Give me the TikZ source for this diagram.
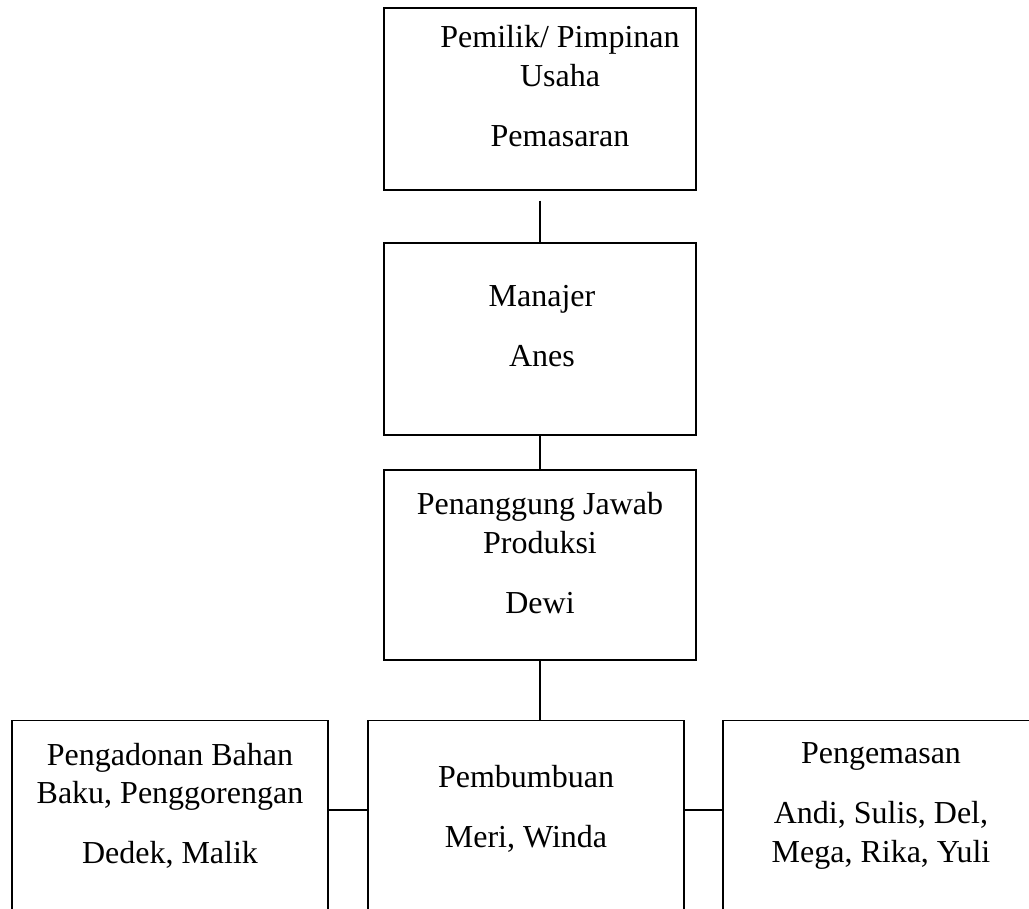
\documentclass[tikz,border=0pt]{standalone}
\usepackage{fontspec}
\setmainfont{Liberation Serif}
\usetikzlibrary{positioning}
\tikzset{
  unit/.style={draw=black,line width=1pt,fill=white,minimum width=234pt,inner sep=0pt},
  ubawah/.style={unit,minimum width=237pt,minimum height=180pt,anchor=north},
  isi/.style={align=center,inner sep=0pt,font=\fontsize{24}{29}\selectfont},
  link/.style={draw=black,line width=0.8pt},
}
\begin{document}
\begin{tikzpicture}[x=0.75pt,y=-0.75pt]
  \useasboundingbox (0,0) rectangle (1029,909);
  \clip (0,0) rectangle (1029,909);
  % kotak jabatan
  \node[unit,minimum height=136.5pt] (owner) at (540,99) {};
  \node[unit,minimum height=144pt] (mgr) at (540,339) {};
  \node[unit,minimum height=142.5pt] (pj) at (540,565) {};
  \foreach \n/\x in {adon/170,bumbu/526,kemas/881} {
    \node[ubawah] (\n) at (\x,720) {};
  }
  % isi kotak
  \node[isi,below=13.5pt of owner.north,xshift=15pt] (ownerT) {Pemilik/ Pimpinan\\Usaha\\[16pt]Pemasaran};
  \node[isi,below=32pt of mgr.north,xshift=1.5pt] (mgrT) {Manajer\\[16pt]Anes};
  \node[isi,below=17pt of pj.north] (pjT) {Penanggung Jawab\\Produksi\\[16pt]Dewi};
  \node[isi,below=17pt of adon.north] (adonT) {Pengadonan Bahan\\Baku, Penggorengan\\[16pt]Dedek, Malik};
  \node[isi,below=33.5pt of bumbu.north] (bumbuT) {Pembumbuan\\[16pt]Meri, Winda};
  \node[isi,below=17pt of kemas.north] (kemasT) {Pengemasan\\[16pt]Andi, Sulis, Del,\\Mega, Rika, Yuli};
  % garis penghubung
  \draw[link] ([yshift=-7.5pt]owner.south) -- (mgr.north);
  \draw[link] (mgr.south) -- (pj.north);
  \draw[link] (pj.south) -- (pj.south |- bumbu.north);
  \draw[link] ([yshift=-67.5pt]adon.north east) -- ([yshift=-67.5pt]bumbu.north west);
  \draw[link] ([yshift=-67.5pt]bumbu.north east) -- ([yshift=-67.5pt]kemas.north west);
\end{tikzpicture}
\end{document}
